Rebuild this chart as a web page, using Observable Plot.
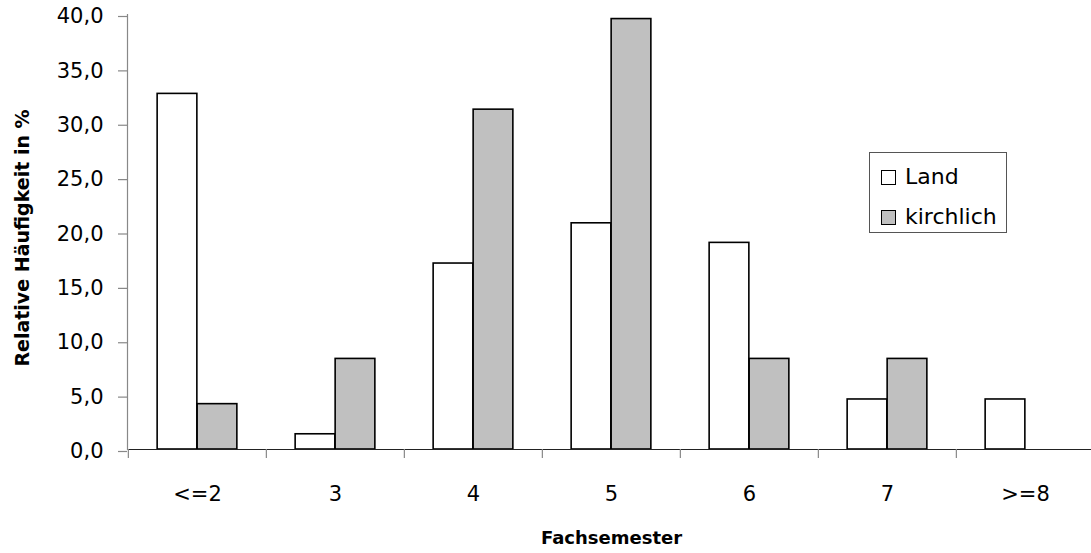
<!DOCTYPE html>
<html><head><meta charset="utf-8">
<script src="https://cdn.jsdelivr.net/npm/d3@7"></script>
<script src="https://cdn.jsdelivr.net/npm/@observablehq/plot@0.6"></script>
<style>
body{margin:0;background:#fff;font-family:"DejaVu Sans",sans-serif;}
#wrap{position:relative;width:1091px;height:553px;overflow:hidden;}
#legend{position:absolute;left:869px;top:152px;width:138px;height:81px;border:1px solid #555;box-sizing:border-box;background:#fff;font-size:22px;color:#000;}
.item{position:absolute;left:11px;height:26px;line-height:26px;display:flex;align-items:center;}
.sw{width:15px;height:15px;border:1.5px solid #000;box-sizing:border-box;margin-right:9px;}
</style></head>
<body><div id="wrap"></div>
<script>
const categories = ["<=2","3","4","5","6","7",">=8"];
const series = ["Land","kirchlich"];
const land = [32.7,1.4,17.1,20.8,19.0,4.6,4.6];
const kirchlich = [4.17,8.33,31.25,39.58,8.33,8.33,0];
const yTicks = [0,5,10,15,20,25,30,35,40];
const colors = ["#ffffff","#c0c0c0"];
const yLabel = "Relative Häufigkeit in %";
const xLabel = "Fachsemester";

const W=1091,H=553,mL=127,mR=-4,mT=14,mB=104;
const step=(W-mL-mR)/categories.length;
const barW=40;
const fmt = d => d.toFixed(1).replace(".", ",");
const font = '"DejaVu Sans",sans-serif';

const landData = categories.map((c,i)=>({cat:c, series:"Land", value:land[i]}));
const kirchData = categories.map((c,i)=>({cat:c, series:"kirchlich", value:kirchlich[i]})).filter(d=>d.value>0);

const chart = Plot.plot({
  width:W, height:H, marginLeft:mL, marginRight:mR, marginTop:mT, marginBottom:mB,
  style:{fontFamily:font, fontSize:"21px", color:"#000", background:"#fff"},
  x:{domain:categories, padding:0, label:null},
  y:{domain:[0,40], label:null},
  color:{domain:series, range:colors},
  marks:[
    Plot.barY(landData, {x:"cat", y:"value", fill:"series", stroke:"#000", strokeWidth:1.6, insetLeft:step/2-barW, insetRight:step/2}),
    Plot.barY(kirchData, {x:"cat", y:"value", fill:"series", stroke:"#000", strokeWidth:1.6, insetLeft:step/2, insetRight:step/2-barW}),
    Plot.ruleY([0], {stroke:"#222", strokeWidth:1.2}),
    Plot.frame({anchor:"left", stroke:"#888", strokeWidth:1.2}),
    Plot.axisY({ticks:yTicks, tickFormat:fmt, tickSize:9, tickPadding:15, stroke:"#888", strokeWidth:1.2, fill:"#000", fontSize:21, dy:2, label:null}),
    Plot.axisX({tickSize:0, tickPadding:37, label:null, fill:"#000", fontSize:21}),
    Plot.axisX({tickSize:9, tickFormat:()=>"", dx:-step/2, stroke:"#888", strokeWidth:1.2, label:null}),
    Plot.text([yLabel], {frameAnchor:"left", textAnchor:"middle", lineAnchor:"middle", rotate:-90, dx:-105, dy:6, fontWeight:"bold", fontSize:19, text:d=>d}),
    Plot.text([xLabel], {frameAnchor:"bottom", dy:94, fontWeight:"bold", fontSize:18, text:d=>d})
  ]
});
const wrap = document.getElementById("wrap");
wrap.appendChild(chart);
const leg = document.createElement("div");
leg.id="legend";
series.forEach((s,i)=>{
  const it=document.createElement("div");
  it.className="item";
  it.style.top=(11+i*40)+"px";
  const sw=document.createElement("div");
  sw.className="sw"; sw.style.background=colors[i];
  const t=document.createElement("span"); t.textContent=s;
  it.appendChild(sw); it.appendChild(t);
  leg.appendChild(it);
});
wrap.appendChild(leg);
</script>
</body></html>
